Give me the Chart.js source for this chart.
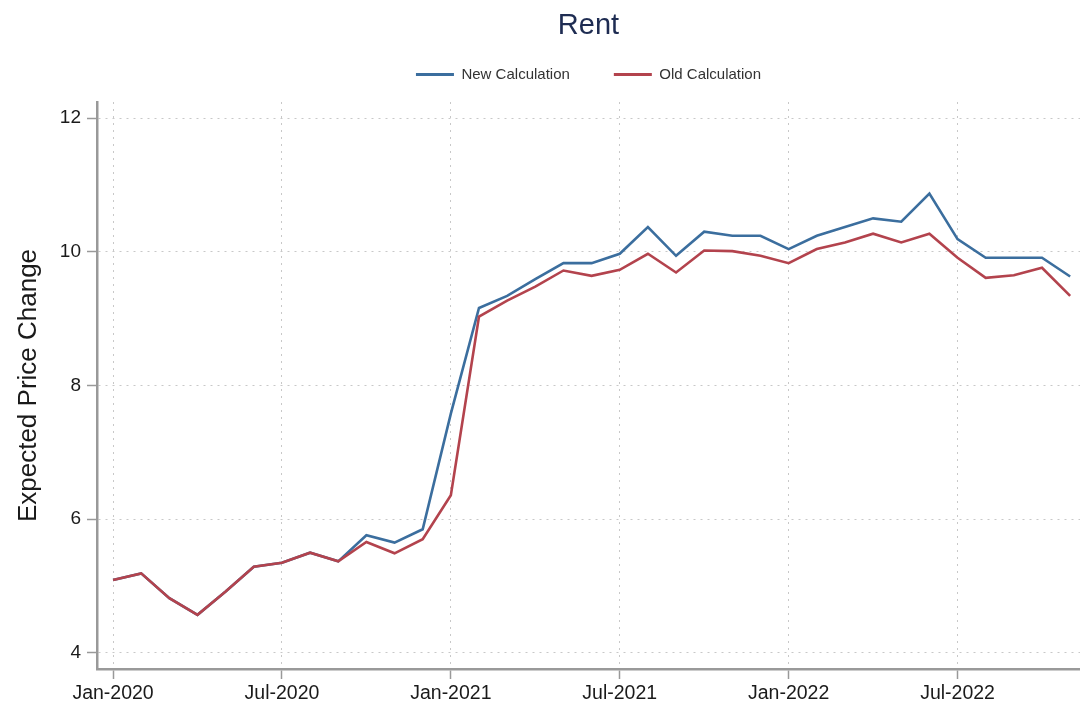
<!DOCTYPE html>
<html>
<head>
<meta charset="utf-8">
<script src="https://cdn.jsdelivr.net/npm/chart.js@4"></script>
<style>
  html, body { margin: 0; padding: 0; background: #ffffff; }
  #wrap { position: relative; width: 1080px; height: 706px; }
</style>
</head>
<body>
<div id="wrap"><canvas id="c" width="1080" height="706"></canvas></div>
<script>
const categories = [
  "Jan-2020","Feb-2020","Mar-2020","Apr-2020","May-2020","Jun-2020","Jul-2020","Aug-2020","Sep-2020","Oct-2020","Nov-2020","Dec-2020",
  "Jan-2021","Feb-2021","Mar-2021","Apr-2021","May-2021","Jun-2021","Jul-2021","Aug-2021","Sep-2021","Oct-2021","Nov-2021","Dec-2021",
  "Jan-2022","Feb-2022","Mar-2022","Apr-2022","May-2022","Jun-2022","Jul-2022","Aug-2022","Sep-2022","Oct-2022","Nov-2022"
];
const newCalculation = [
  5.09, 5.19, 4.82, 4.57, 4.92, 5.29, 5.35, 5.50, 5.37, 5.76, 5.65, 5.85,
  7.58, 9.16, 9.34, 9.59, 9.83, 9.83, 9.97, 10.37, 9.94, 10.30, 10.24, 10.24,
  10.04, 10.24, 10.37, 10.50, 10.45, 10.87, 10.19, 9.91, 9.91, 9.91, 9.63
];
const oldCalculation = [
  5.09, 5.19, 4.82, 4.57, 4.92, 5.29, 5.35, 5.50, 5.37, 5.66, 5.49, 5.70,
  6.36, 9.03, 9.27, 9.48, 9.72, 9.64, 9.73, 9.97, 9.69, 10.02, 10.01, 9.94,
  9.83, 10.04, 10.14, 10.27, 10.14, 10.27, 9.91, 9.61, 9.65, 9.76, 9.34
];
const xTickLabels = ["Jan-2020","Jul-2020","Jan-2021","Jul-2021","Jan-2022","Jul-2022"];
const yTickValues = [4, 6, 8, 10, 12];

const toPoints = arr => arr.map((v, i) => ({ x: i, y: v }));
const xTickIdx = xTickLabels.map(l => categories.indexOf(l));

const BLUE = "#3b6e9e";
const RED = "#b3434d";
const FONT = "'Liberation Sans', Arial, Helvetica, sans-serif";

// adds a little room between the legend and the plot area
const legendGap = {
  id: "legendGap",
  beforeUpdate(chart) {
    const lg = chart.legend;
    if (lg && !lg._gapPatched) {
      const fit = lg.fit;
      lg.fit = function () { fit.call(this); this.height += 10; };
      lg._gapPatched = true;
    }
  }
};

new Chart(document.getElementById("c"), {
  type: "line",
  data: {
    datasets: [
      { label: "New Calculation", data: toPoints(newCalculation), borderColor: BLUE, backgroundColor: BLUE,
        borderWidth: 2.6, pointRadius: 0, tension: 0, order: 1 },
      { label: "Old Calculation", data: toPoints(oldCalculation), borderColor: RED, backgroundColor: RED,
        borderWidth: 2.6, pointRadius: 0, tension: 0, order: 0 }
    ]
  },
  plugins: [legendGap],
  options: {
    responsive: false,
    animation: false,
    layout: { padding: { left: 0, right: 0, top: 0, bottom: 0 } },
    plugins: {
      title: {
        display: true, text: "Rent", fullSize: false,
        color: "#1e2c52",
        font: { family: FONT, size: 29, weight: "normal" },
        padding: { top: 9, bottom: -20.8 }
      },
      legend: {
        display: true, fullSize: false,
        labels: {
          sort: (a, b) => a.datasetIndex - b.datasetIndex,
          generateLabels: chart => Chart.defaults.plugins.legend.labels.generateLabels(chart)
            .map(l => Object.assign(l, { lineWidth: 0 })),
          color: "#333333",
          font: { family: FONT, size: 15 },
          boxWidth: 38, boxHeight: 3,
          padding: 44
        }
      },
      tooltip: { enabled: false }
    },
    scales: {
      x: {
        type: "linear",
        min: -0.57, max: 34.35,
        afterBuildTicks: s => { s.ticks = xTickIdx.map(v => ({ value: v })); },
        afterFit: s => { s.height = 37; },
        ticks: {
          callback: v => categories[v],
          color: "#1a1a1a",
          font: { family: FONT, size: 19.5 },
          padding: 3, maxRotation: 0, autoSkip: false
        },
        grid: {
          color: "#c8c8c8", lineWidth: 1,
          tickLength: 10, tickColor: "#999999", tickWidth: 1.5, tickBorderDash: []
        },
        border: { display: true, color: "#999999", width: 2.5, dash: [2, 5] }
      },
      y: {
        type: "linear",
        min: 3.76, max: 12.24,
        afterBuildTicks: s => { s.ticks = yTickValues.map(v => ({ value: v })); },
        afterFit: s => { s.width = 97; },
        ticks: {
          color: "#1a1a1a",
          font: { family: FONT, size: 19 },
          padding: 6
        },
        grid: {
          color: "#c8c8c8", lineWidth: 1,
          tickLength: 10, tickColor: "#999999", tickWidth: 1.5, tickBorderDash: []
        },
        border: { display: true, color: "#999999", width: 2.5, dash: [2, 5] },
        title: {
          display: true, text: "Expected Price Change",
          color: "#1a1a1a",
          font: { family: FONT, size: 26 },
          padding: { top: 13, bottom: 0 }
        }
      }
    }
  }
});
</script>
</body>
</html>
